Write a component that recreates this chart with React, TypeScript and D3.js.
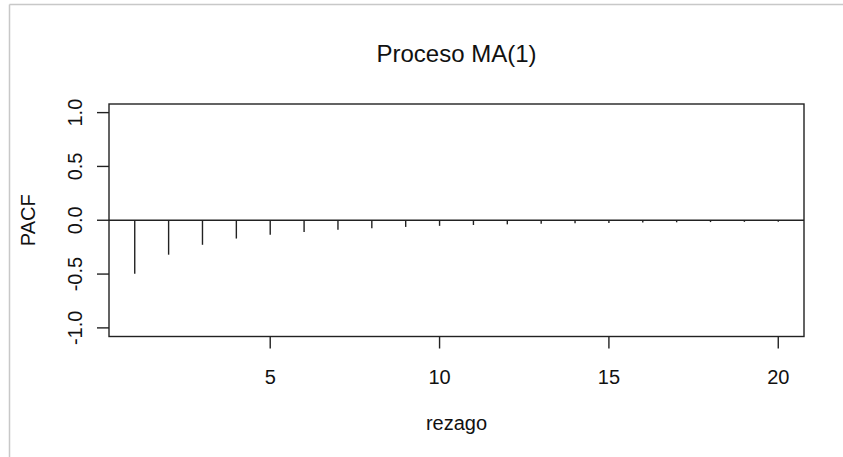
import React, { useRef, useEffect } from 'react';
import * as d3 from 'd3';

const lags = [1, 2, 3, 4, 5, 6, 7, 8, 9, 10, 11, 12, 13, 14, 15, 16, 17, 18, 19, 20];
const pacf = [
  -0.497, -0.32, -0.228, -0.17, -0.134, -0.108, -0.088, -0.074, -0.062, -0.052,
  -0.044, -0.038, -0.033, -0.029, -0.025, -0.022, -0.019, -0.017, -0.015, -0.013,
];
const xTicks = [5, 10, 15, 20];
const yTicks = [-1, -0.5, 0, 0.5, 1];

const App: React.FC = () => {
  const svgRef = useRef<SVGSVGElement | null>(null);

  useEffect(() => {
    const svg = d3.select(svgRef.current!);
    svg.selectAll('*').remove();

    const left = 109, right = 804, top = 104, bottom = 336.5;
    const font = 'Liberation Sans, Arial, sans-serif';

    const x = d3.scaleLinear().domain([0.24, 20.76]).range([left, right]);
    const y = d3.scaleLinear().domain([-1.08, 1.08]).range([bottom, top]);

    // screenshot frame (top / left only)
    svg.append('line').attr('x1', 9.5).attr('x2', 843).attr('y1', 4.5).attr('y2', 4.5)
      .attr('stroke', '#c8c8c8').attr('stroke-width', 1.5);
    svg.append('line').attr('x1', 9.5).attr('x2', 9.5).attr('y1', 4.5).attr('y2', 457)
      .attr('stroke', '#c8c8c8').attr('stroke-width', 1.5);

    // zero line
    svg.append('line')
      .attr('x1', left).attr('x2', right)
      .attr('y1', y(0)).attr('y2', y(0))
      .attr('stroke', '#222').attr('stroke-width', 1.4);

    // spikes
    svg.selectAll('line.spike')
      .data(lags)
      .enter()
      .append('line')
      .attr('class', 'spike')
      .attr('x1', (d) => x(d)).attr('x2', (d) => x(d))
      .attr('y1', y(0))
      .attr('y2', (d, i) => y(pacf[i]))
      .attr('stroke', '#222').attr('stroke-width', 1.4);

    // box
    svg.append('rect')
      .attr('x', left).attr('y', top)
      .attr('width', right - left).attr('height', bottom - top)
      .attr('fill', 'none').attr('stroke', '#222').attr('stroke-width', 1.4);

    // x axis
    const xa = svg.append('g');
    xTicks.forEach((t) => {
      xa.append('line').attr('x1', x(t)).attr('x2', x(t))
        .attr('y1', bottom).attr('y2', bottom + 12)
        .attr('stroke', '#222').attr('stroke-width', 1.4);
      xa.append('text').attr('x', x(t)).attr('y', bottom + 47)
        .attr('text-anchor', 'middle')
        .style('font-family', font).style('font-size', '20px').attr('fill', '#111')
        .text(String(t));
    });

    // y axis
    const ya = svg.append('g');
    yTicks.forEach((t) => {
      ya.append('line').attr('x1', left - 12).attr('x2', left)
        .attr('y1', y(t)).attr('y2', y(t))
        .attr('stroke', '#222').attr('stroke-width', 1.4);
      ya.append('text')
        .attr('transform', `translate(82,${y(t)}) rotate(-90)`)
        .attr('text-anchor', 'middle')
        .style('font-family', font).style('font-size', '20px').attr('fill', '#111')
        .text(t.toFixed(1));
    });

    // titles
    svg.append('text')
      .attr('x', (left + right) / 2).attr('y', 62)
      .attr('text-anchor', 'middle')
      .style('font-family', font).style('font-size', '24px').attr('fill', '#111')
      .text('Proceso MA(1)');

    svg.append('text')
      .attr('x', (left + right) / 2).attr('y', 430)
      .attr('text-anchor', 'middle')
      .style('font-family', font).style('font-size', '20px').attr('fill', '#111')
      .text('rezago');

    svg.append('text')
      .attr('transform', `translate(35,${y(0)}) rotate(-90)`)
      .attr('text-anchor', 'middle')
      .style('font-family', font).style('font-size', '20px').attr('fill', '#111')
      .text('PACF');
  }, []);

  return (
    <svg
      ref={svgRef}
      width={843}
      height={457}
      style={{ position: 'absolute', left: 0, top: 0, background: '#fff' }}
    />
  );
};

export default App;
